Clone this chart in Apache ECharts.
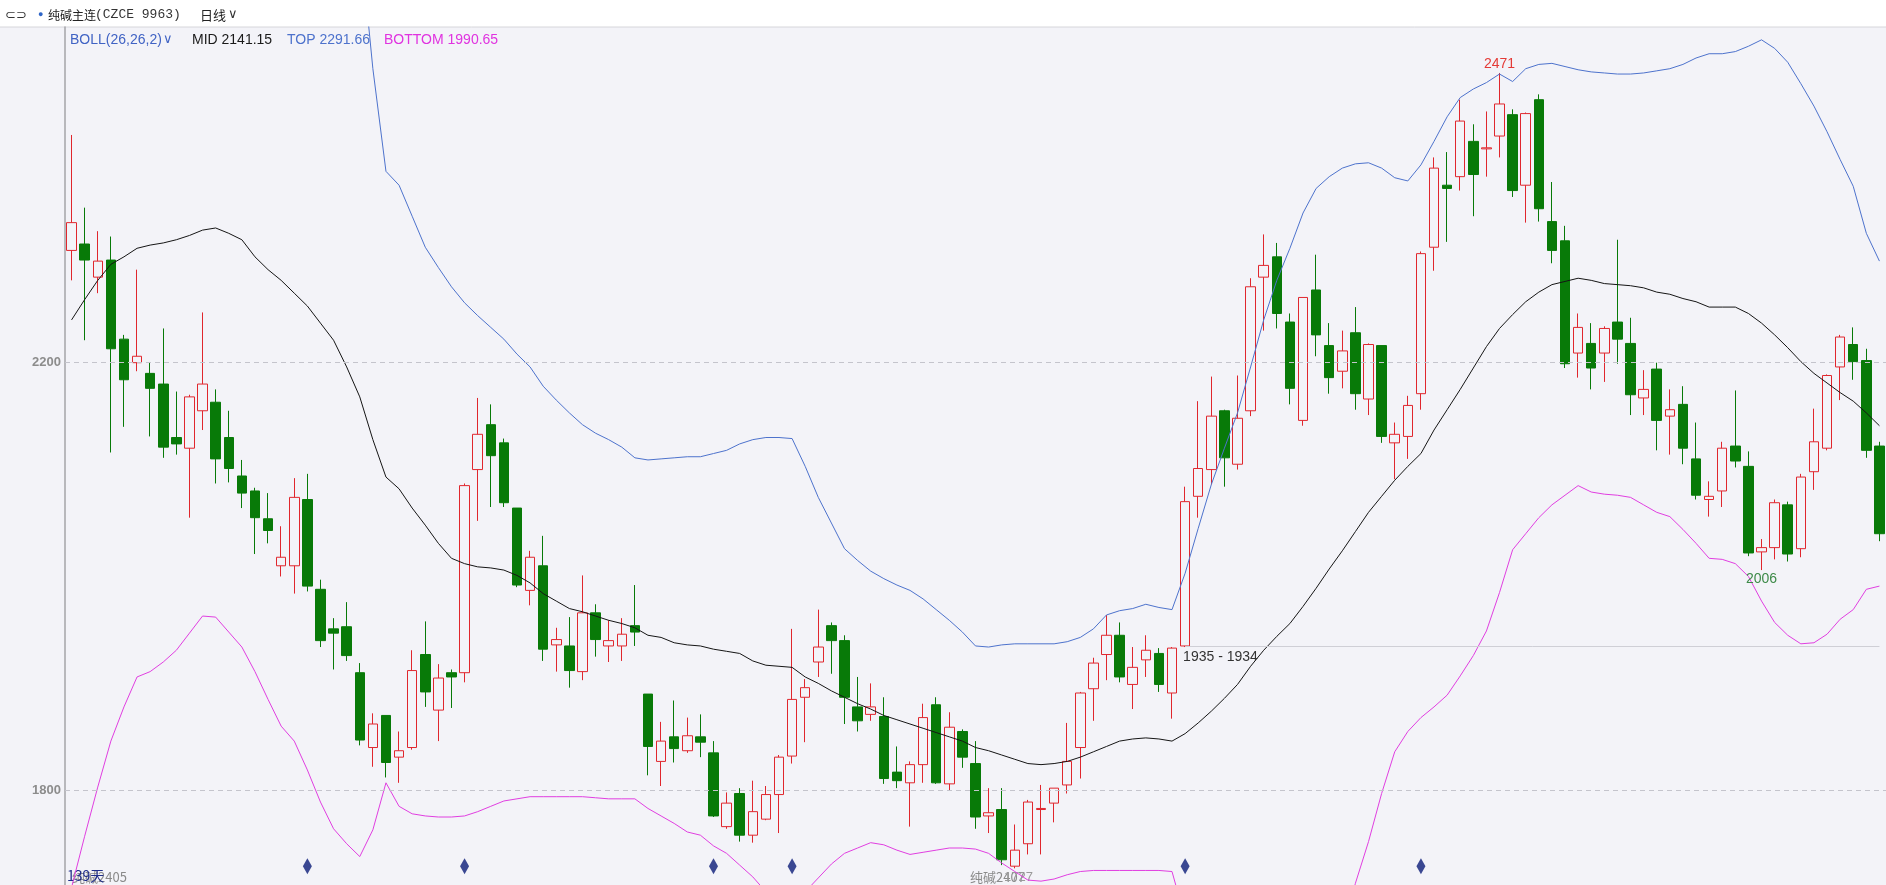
<!DOCTYPE html>
<html>
<head>
<meta charset="utf-8">
<title>纯碱主连 日线 BOLL</title>
<script src="https://cdn.jsdelivr.net/npm/echarts@6/dist/echarts.min.js"></script>
<style>
  html, body { margin: 0; padding: 0; background: #f3f3f8; }
  #chart { width: 1886px; height: 885px; }
</style>
</head>
<body>
<div id="chart"></div>
<script>
// daily candles, [open, close, low, high]
const candles = [
  [2305,2331,2277,2413],[2311,2296,2221,2345],[2280,2295,2265,2323],[2296,2213,2116,2318],[2222,2184,2140,2226],
  [2200,2206,2192,2287],[2190,2176,2131,2200],[2180,2121,2111,2232],[2130,2124,2114,2173],[2120,2168,2055,2170],
  [2155,2180,2137,2247],[2163,2110,2087,2175],[2130,2101,2088,2155],[2094,2078,2064,2109],[2080,2055,2021,2083],
  [2054,2043,2031,2078],[2010,2018,2000,2047],[2010,2074,1984,2092],[2072,1991,1986,2096],[1988,1940,1934,1997],
  [1951,1947,1913,1961],[1953,1926,1921,1976],[1910,1847,1842,1919],[1840,1862,1822,1872],[1870,1826,1812,1870],
  [1831,1837,1807,1855],[1840,1912,1838,1931],[1927,1892,1878,1958],[1875,1905,1846,1918],[1910,1906,1877,1913],
  [1910,2085,1901,2087],[2100,2133,2052,2167],[2142,2113,2065,2161],[2125,2069,2065,2129],[2064,1992,1990,2064],
  [1987,2018,1973,2024],[2010,1932,1921,2038],[1936,1941,1911,1952],[1935,1912,1896,1962],[1911,1966,1903,2001],
  [1966,1941,1925,1974],[1935,1940,1920,1959],[1935,1946,1921,1961],[1954,1948,1935,1992],[1890,1841,1814,1890],
  [1827,1846,1804,1864],[1850,1839,1826,1884],[1837,1851,1835,1868],[1850,1845,1831,1871],[1835,1776,1775,1846],
  [1766,1788,1764,1798],[1797,1758,1752,1802],[1758,1780,1751,1809],[1773,1796,1772,1804],[1796,1831,1760,1833],
  [1832,1885,1825,1951],[1887,1896,1845,1904],[1920,1934,1906,1969],[1954,1940,1909,1957],[1940,1887,1862,1945],
  [1878,1865,1855,1906],[1871,1878,1865,1900],[1869,1811,1806,1887],[1817,1809,1802,1841],[1807,1824,1766,1827],
  [1824,1868,1807,1881],[1880,1807,1806,1887],[1806,1859,1800,1873],[1855,1831,1821,1857],[1825,1775,1764,1846],
  [1776,1779,1760,1802],[1782,1735,1730,1802],[1729,1744,1727,1768],[1750,1789,1740,1791],[1782,1783,1740,1805],
  [1788,1802,1770,1802],[1805,1827,1797,1863],[1840,1891,1811,1892],[1895,1919,1865,1924],[1927,1945,1903,1964],
  [1945,1906,1901,1957],[1899,1915,1876,1934],[1922,1931,1906,1945],[1928,1899,1892,1933],[1891,1933,1867,1934],
  [1935,2070,1934,2084],[2075,2101,2055,2164],[2100,2150,2086,2187],[2155,2111,2084,2156],[2105,2148,2100,2188],
  [2155,2271,2150,2279],[2280,2291,2230,2320],[2299,2246,2232,2312],[2238,2176,2161,2246],[2146,2261,2141,2261],
  [2268,2226,2206,2301],[2216,2186,2171,2237],[2192,2211,2176,2230],[2228,2171,2156,2252],[2166,2217,2151,2218],
  [2216,2131,2125,2216],[2125,2133,2091,2144],[2131,2160,2110,2169],[2171,2302,2156,2304],[2308,2382,2286,2392],
  [2366,2363,2313,2397],[2374,2426,2361,2446],[2407,2376,2337,2423],[2400,2401,2374,2435],[2412,2442,2392,2471],
  [2432,2361,2355,2437],[2366,2433,2331,2434],[2446,2344,2332,2451],[2332,2305,2293,2369],[2314,2199,2195,2328],
  [2209,2233,2186,2246],[2218,2195,2175,2237],[2209,2232,2182,2234],[2238,2222,2199,2315],[2218,2170,2151,2242],
  [2167,2175,2151,2193],[2194,2146,2118,2200],[2150,2156,2114,2175],[2161,2120,2105,2178],[2110,2076,2072,2144],
  [2072,2075,2056,2089],[2080,2120,2065,2126],[2122,2108,2102,2174],[2103,2022,2019,2117],[2023,2027,2006,2035],
  [2027,2069,2016,2072],[2067,2021,2014,2070],[2026,2093,2018,2096],[2098,2126,2081,2157],[2120,2188,2118,2189],
  [2196,2224,2165,2226],[2217,2201,2184,2233],[2202,2118,2111,2213],[2122,2040,2033,2126]
];

// BOLL(26,26,2) lines
const bollMid = [
  2240,2259,2277,2292,2299,2307,2310,2312,2315,2319,
  2324,2326,2321,2315,2299,2287,2277,2265,2253,2237,
  2221,2196,2168,2128,2093,2082,2064,2048,2031,2017,
  2012,2009,2008,2006,2001,1994,1984,1977,1970,1967,
  1963,1959,1956,1952,1945,1943,1938,1936,1935,1932,
  1930,1928,1921,1917,1916,1915,1906,1900,1893,1887,
  1881,1876,1870,1866,1862,1858,1854,1850,1846,1840,
  1837,1833,1829,1825,1824,1825,1827,1831,1836,1841,
  1846,1848,1849,1848,1846,1853,1863,1874,1886,1899,
  1916,1931,1944,1956,1972,1989,2007,2024,2042,2060,
  2075,2090,2103,2115,2137,2156,2175,2195,2215,2232,
  2245,2257,2266,2273,2276,2279,2277,2274,2273,2272,
  2270,2266,2264,2260,2257,2252,2252,2252,2246,2237,
  2226,2214,2201,2190,2181,2172,2164,2153,2141
];
const bollTop = [
  2771,2761,2751,2737,2720,2708,2709,2703,2698,2691,
  2685,2689,2694,2695,2688,2689,2695,2685,2686,2684,
  2678,2642,2600,2475,2379,2366,2337,2308,2289,2271,
  2256,2244,2233,2222,2208,2196,2178,2165,2153,2142,
  2134,2128,2121,2111,2109,2110,2111,2112,2112,2115,
  2118,2124,2128,2130,2130,2129,2103,2074,2050,2026,
  2015,2005,1998,1992,1987,1979,1969,1959,1948,1935,
  1934,1936,1937,1937,1937,1937,1939,1943,1951,1964,
  1968,1970,1974,1971,1969,2003,2045,2086,2120,2153,
  2196,2240,2277,2307,2340,2363,2374,2382,2386,2387,
  2382,2373,2370,2385,2407,2430,2448,2456,2462,2470,
  2463,2475,2479,2480,2477,2474,2472,2471,2470,2470,
  2471,2473,2475,2479,2485,2489,2489,2491,2496,2502,
  2494,2481,2461,2440,2416,2390,2365,2321,2295
];
const bollBottom = [
  1709,1757,1803,1846,1878,1906,1911,1920,1931,1947,
  1963,1962,1948,1934,1911,1885,1860,1846,1819,1789,
  1764,1750,1738,1763,1807,1785,1778,1776,1775,1775,
  1776,1780,1785,1790,1792,1794,1794,1794,1794,1794,
  1793,1792,1792,1792,1783,1776,1769,1761,1758,1748,
  1741,1730,1719,1705,1695,1695,1705,1718,1731,1741,
  1746,1751,1749,1744,1740,1742,1744,1746,1746,1745,
  1741,1732,1724,1716,1715,1717,1721,1724,1725,1725,
  1725,1725,1725,1725,1724,1680,1640,1600,1570,1545,
  1530,1525,1530,1545,1570,1600,1630,1668,1713,1752,
  1797,1836,1855,1868,1878,1889,1907,1926,1949,1985,
  2025,2040,2055,2067,2076,2085,2079,2077,2076,2074,
  2067,2060,2056,2044,2031,2017,2016,2012,2000,1977,
  1957,1945,1937,1938,1946,1960,1969,1988,1991
];

// signal diamonds along the bottom (candle index)
const signalDays = [18, 30, 49, 55, 85, 103];
const signalLevel = 1729;

const gridLines = [1800, 2200];
const highMark = { day: 109, price: 2471 };
const lowMark = { day: 129, price: 2006 };
const rangeLine = { day: 85, price: 1935, text: '1935 - 1934' };

const days = candles.map((_, i) => String(i + 1));

const UP = '#e0262d';
const DOWN = '#087a08';
const FONT = "'Liberation Sans', Arial, sans-serif";
const CJK = "'Noto Sans CJK SC', 'Liberation Sans', sans-serif";

const chart = echarts.init(document.getElementById('chart'));

const txt = (x, y, text, fill, size, family, extra) => ({
  type: 'text', x, y, silent: true,
  style: Object.assign({ text, fill, font: `${size}px ${family}`, verticalAlign: 'middle' }, extra || {})
});

chart.setOption({
  animation: false,
  backgroundColor: '#f3f3f8',
  grid: { left: 65, right: 0, top: 27, bottom: 0 },
  xAxis: {
    type: 'category',
    data: days,
    boundaryGap: true,
    axisLine: { show: false },
    axisTick: { show: false },
    axisLabel: { show: false },
    splitLine: { show: false }
  },
  yAxis: {
    type: 'value',
    min: 1711.4,
    max: 2514,
    axisLine: { show: true, lineStyle: { color: '#a4a4a8', width: 1.5 } },
    axisTick: { show: false },
    splitLine: { show: false },
    axisLabel: {
      color: '#8c8c8c', fontSize: 13, fontWeight: 'bold', fontFamily: FONT, margin: 4,
      showMinLabel: false, showMaxLabel: false,
      formatter: v => (gridLines.indexOf(v) >= 0 ? String(v) : '')
    }
  },
  series: [
    {
      type: 'candlestick',
      data: candles,
      barWidth: 10,
      itemStyle: {
        color: 'rgba(0,0,0,0)', color0: DOWN,
        borderColor: UP, borderColor0: DOWN, borderWidth: 1
      },
      markPoint: {
        symbol: 'circle', symbolSize: 0, silent: true,
        data: [
          { coord: [highMark.day, highMark.price], value: highMark.price,
            label: { position: 'top', distance: 2, color: '#e43a36', fontSize: 14, fontFamily: FONT } },
          { coord: [lowMark.day, lowMark.price], value: lowMark.price,
            label: { position: 'bottom', distance: 2, color: '#3d8a48', fontSize: 14, fontFamily: FONT } }
        ]
      },
      markLine: {
        symbol: 'none', silent: true,
        lineStyle: { color: '#cfcfd6', width: 1, type: 'solid' },
        label: { show: true, position: 'insideStartBottom', formatter: rangeLine.text,
                 color: '#333', fontSize: 14, fontFamily: FONT, distance: [-2, 4],
                 textBorderWidth: 0, backgroundColor: 'transparent' },
        data: [[{ coord: [rangeLine.day, rangeLine.price] }, { coord: [candles.length - 1, rangeLine.price] }]]
      }
    },
    {
      name: 'MID', type: 'line', data: bollMid, symbol: 'none',
      lineStyle: { color: '#151515', width: 1 },
      markLine: {
        symbol: 'none', silent: true,
        label: { show: false },
        lineStyle: { color: '#c4c4cc', width: 1, type: [5, 4] },
        data: gridLines.map(v => ({ yAxis: v }))
      }
    },
    { name: 'TOP', type: 'line', data: bollTop, symbol: 'none', lineStyle: { color: '#4d72cc', width: 1 } },
    { name: 'BOTTOM', type: 'line', data: bollBottom, symbol: 'none', lineStyle: { color: '#e03ee0', width: 1 } },
    {
      type: 'scatter', symbol: 'diamond', symbolSize: [9, 16],
      itemStyle: { color: '#0b1c78' },
      data: signalDays.map(d => [d, signalLevel])
    }
  ],
  graphic: [
    { type: 'rect', shape: { x: 0, y: 0, width: 1886, height: 27 }, style: { fill: '#ffffff' }, silent: true },
    { type: 'line', shape: { x1: 0, y1: 27, x2: 1886, y2: 27 }, style: { stroke: '#d6d6da', lineWidth: 1 }, silent: true },
    txt(5, 15, '⊂⊃', '#333', 13, FONT),
    txt(38, 15, '●', '#2f66c8', 9, FONT),
    txt(48, 15, '纯碱主连', '#222', 12, CJK),
    txt(95, 15, '(CZCE 9963)', '#333', 13, "'Liberation Mono', monospace"),
    txt(200, 15, '日线', '#222', 13, CJK),
    txt(228, 14, '∨', '#333', 13, FONT),
    txt(70, 40, 'BOLL(26,26,2)', '#4063c4', 14, FONT),
    txt(163, 39, '∨', '#4063c4', 13, FONT),
    txt(192, 40, 'MID 2141.15', '#1a1a1a', 14, FONT),
    txt(287, 40, 'TOP 2291.66', '#4d72cc', 14, FONT),
    txt(384, 40, 'BOTTOM 1990.65', '#e033e0', 14, FONT),
    txt(72, 877, '纯碱2405', '#8a8a8a', 13, CJK),
    txt(67, 876, '139天', '#1f2d8a', 14, CJK),
    txt(970, 877, '纯碱2407', '#8a8a8a', 13, CJK),
    txt(1004, 877, '1727', '#9a9a9a', 13, FONT)
  ]
});
</script>
</body>
</html>
